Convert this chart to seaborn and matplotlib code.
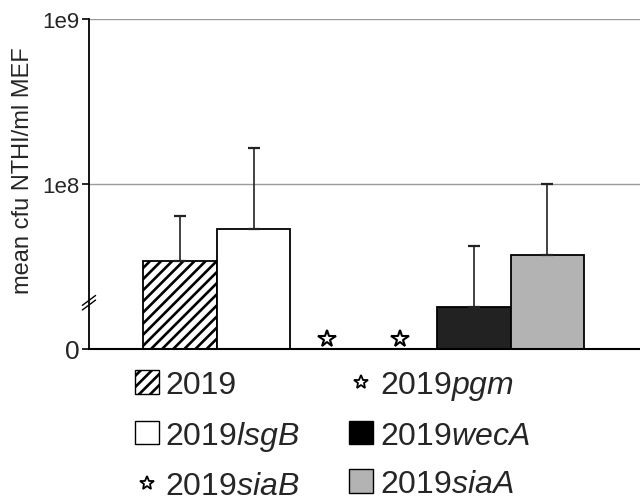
import matplotlib
matplotlib.use("Agg")
import matplotlib.pyplot as plt
import matplotlib.transforms as mtransforms
from matplotlib.patches import Patch
from matplotlib.lines import Line2D
import numpy as np
import pandas as pd
import seaborn as sns

# ~~~ data ~~~
strains = ["2019", "2019lsgB", "2019pgm", "2019siaB", "2019wecA", "2019siaA"]
labels = ["2019", "2019$\\mathit{lsgB}$", "2019$\\mathit{pgm}$",
          "2019$\\mathit{siaB}$", "2019$\\mathit{wecA}$", "2019$\\mathit{siaA}$"]
mean_cfu = [3.4e7, 5.3e7, 0, 0, 1.8e7, 3.7e7]   # 0 = none recovered (star)
err_up = [3.0e7, 1.12e8, 0, 0, 2.4e7, 6.3e7]
bar_colors = ["white", "white", "white", "white", "#222222", "#b3b3b3"]
ytick_vals = [1e7, 1e8, 1e9]
ytick_labels = ["0", "1e8", "1e9"]

sns.set_style("white")
plt.rcParams["font.family"] = ["Liberation Sans", "DejaVu Sans"]
plt.rcParams["mathtext.fontset"] = "custom"
plt.rcParams["mathtext.rm"] = "Liberation Sans"
plt.rcParams["mathtext.it"] = "Liberation Sans:italic"
plt.rcParams["hatch.linewidth"] = 1.9

df = pd.DataFrame({"strain": strains, "cfu": mean_cfu})

fig = plt.figure(figsize=(6.4, 5.02), dpi=100)
ax = fig.add_axes([0.139, 0.303, 0.861, 0.657])

sns.barplot(data=df, x="strain", y="cfu", hue="strain", order=strains,
            hue_order=strains, palette=dict(zip(strains, bar_colors)),
            width=1.0, edgecolor="black", linewidth=1.3, legend=False,
            errorbar=None, ax=ax)
ax.set_yscale("log")
ax.patches[0].set_hatch("///")

# upper error bars only
xs = np.arange(len(strains))
has = np.array(mean_cfu) > 0
means = np.array(mean_cfu)[has]
ups = np.array(err_up)[has]
ax.errorbar(xs[has], means, yerr=[np.zeros_like(ups), ups], fmt="none",
            ecolor="#222222", elinewidth=1.2, capsize=4, capthick=1.6, zorder=3)

# stars for strains with nothing recovered, sitting on the "0" line
star_tr = mtransforms.offset_copy(ax.transData, fig=fig, y=7, units="points")
zero = np.array(mean_cfu) == 0
ax.plot(xs[zero], np.full(zero.sum(), ytick_vals[0]), linestyle="none",
        marker="*", markersize=13, mfc="white", mec="black", mew=1.5,
        transform=star_tr, clip_on=False, zorder=4)

ax.set_ylim(ytick_vals[0], ytick_vals[-1])
ax.set_xlim(-1.24, len(strains) + 0.26)
ax.set_yticks(ytick_vals)
ax.set_yticklabels(ytick_labels, fontsize=16)
ax.get_yticklabels()[0].set_fontsize(19)
ax.yaxis.set_minor_locator(matplotlib.ticker.NullLocator())
ax.tick_params(axis="y", left=True, length=5, width=1.2, color="black", pad=2)
ax.set_xticks([])
ax.set_xlabel("")
ax.set_ylabel("mean cfu NTHI/ml MEF", fontsize=17)
ax.yaxis.set_label_coords(-0.1, 0.545)
ax.grid(axis="y", color="#9a9a9a", linewidth=1.0)
ax.set_axisbelow(True)
for side in ["top", "right"]:
    ax.spines[side].set_visible(False)
ax.spines["left"].set_color("black")
ax.spines["left"].set_linewidth(1.3)
ax.spines["bottom"].set_color("black")
ax.spines["bottom"].set_linewidth(1.5)

# axis break mark
for dy in (0.0, 0.014):
    ax.plot([-0.012, 0.012], [0.118 + dy, 0.148 + dy], transform=ax.transAxes,
            color="black", linewidth=1.0, clip_on=False, zorder=5)

# legend: two columns, three rows
handles = [
    Patch(facecolor="white", edgecolor="black", hatch="///", linewidth=1.0),
    Patch(facecolor="white", edgecolor="black", linewidth=1.0),
    Line2D([], [], linestyle="none", marker="*", markersize=10, mfc="white",
           mec="black", mew=1.3),
    Line2D([], [], linestyle="none", marker="*", markersize=10, mfc="white",
           mec="black", mew=1.3),
    Patch(facecolor="black", edgecolor="black", linewidth=1.0),
    Patch(facecolor="#b3b3b3", edgecolor="black", linewidth=1.0),
]
leg_labels = [labels[0], labels[1], labels[3], labels[2], labels[4], labels[5]]
fig.legend(handles, leg_labels, ncol=2, loc="upper left",
           bbox_to_anchor=(0.211, 0.263), frameon=False, fontsize=23,
           handlelength=0.75, handleheight=0.75, handletextpad=0.2,
           labelspacing=0.58, columnspacing=1.55, borderpad=0, borderaxespad=0)

fig.savefig("out.png", dpi=100)
